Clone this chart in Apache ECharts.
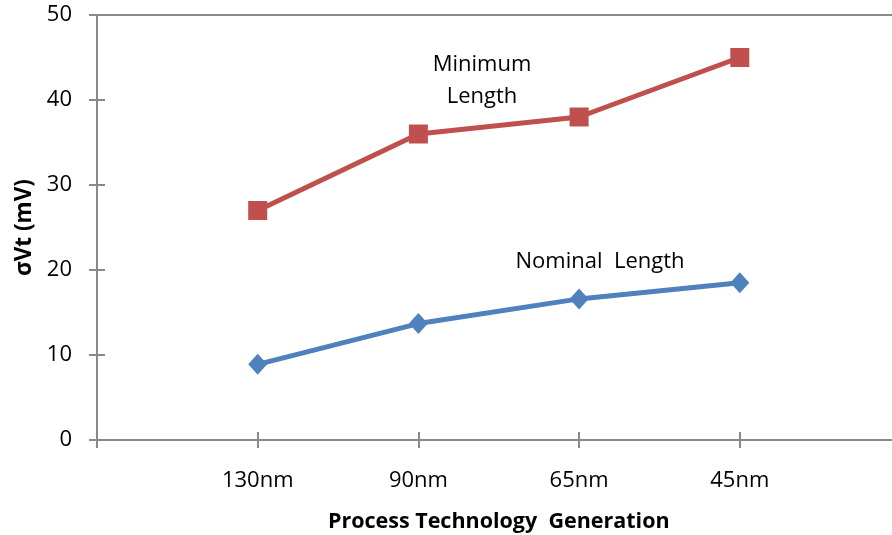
<!DOCTYPE html>
<html>
<head>
<meta charset="utf-8">
<script src="https://cdn.jsdelivr.net/npm/echarts@6/dist/echarts.min.js"></script>
<style>
  html, body { margin: 0; padding: 0; background: #fff; }
  #chart { width: 892px; height: 535px; }
</style>
</head>
<body>
<div id="chart"></div>
<script>
// Process generations shown along the x axis
const categories = ['130nm', '90nm', '65nm', '45nm'];
// Threshold-voltage mismatch (mV) per generation
const minimumLength = [27, 36, 38, 45];
const nominalLength = [8.9, 13.7, 16.6, 18.5];
const yTicks = [0, 10, 20, 30, 40, 50];

const FONT = 'Open Sans';
const AXIS_GRAY = '#898989';

// Points sit at positions 1..n on a value axis running 0..n+1
const toPoints = vals => vals.map((v, i) => [i + 1, v]);

const chart = echarts.init(document.getElementById('chart'), null, { renderer: 'canvas' });

const xBase = {
  type: 'value',
  min: 0,
  max: categories.length + 1,
  interval: 1,
  splitLine: { show: false }
};
const yBase = {
  type: 'value',
  min: yTicks[0],
  max: yTicks[yTicks.length - 1],
  interval: yTicks[1] - yTicks[0],
  splitLine: { show: false }
};

chart.setOption({
  animation: false,
  backgroundColor: '#fff',
  grid: {
    left: 97, top: 15, bottom: 95, right: -8.5,
    containLabel: false,
    outerBoundsMode: 'none'
  },
  xAxis: [
    Object.assign({}, xBase, {
      position: 'bottom',
      name: 'Process Technology  Generation',
      nameLocation: 'middle',
      nameGap: 71,
      nameTextStyle: { fontFamily: FONT, fontSize: 21.5, fontWeight: 'bold', color: '#000' },
      axisLine: { show: true, lineStyle: { color: AXIS_GRAY, width: 2 } },
      axisTick: { show: true, inside: false, length: 8, lineStyle: { color: AXIS_GRAY, width: 2 } },
      axisLabel: {
        margin: 30,
        fontFamily: FONT, fontSize: 22, color: '#000',
        formatter: v => categories[v - 1] || ''
      }
    }),
    Object.assign({}, xBase, {
      position: 'bottom',
      axisLine: { show: false },
      axisTick: { show: true, inside: true, length: 8, lineStyle: { color: AXIS_GRAY, width: 2 } },
      axisLabel: { show: false }
    }),
    Object.assign({}, xBase, {
      position: 'top',
      axisLine: { show: true, lineStyle: { color: AXIS_GRAY, width: 2 } },
      axisTick: { show: false },
      axisLabel: { show: false }
    })
  ],
  yAxis: [
    Object.assign({}, yBase, {
      position: 'left',
      name: 'σVt (mV)',
      nameLocation: 'middle',
      nameGap: 58,
      nameTextStyle: { fontFamily: FONT, fontSize: 22.5, fontWeight: 'bold', color: '#000' },
      axisLine: { show: true, lineStyle: { color: AXIS_GRAY, width: 2 } },
      axisTick: { show: true, inside: false, length: 8, lineStyle: { color: AXIS_GRAY, width: 2 } },
      axisLabel: { margin: 25, fontFamily: FONT, fontSize: 22, color: '#000' }
    }),
    Object.assign({}, yBase, {
      position: 'left',
      axisLine: { show: false },
      axisTick: { show: true, inside: true, length: 8, lineStyle: { color: AXIS_GRAY, width: 2 } },
      axisLabel: { show: false }
    })
  ],
  series: [
    {
      name: 'Minimum Length',
      type: 'line',
      xAxisIndex: 0, yAxisIndex: 0,
      data: toPoints(minimumLength),
      symbol: 'rect',
      symbolSize: 19,
      lineStyle: { color: '#C0504D', width: 5 },
      itemStyle: { color: '#C0504D' }
    },
    {
      name: 'Nominal Length',
      type: 'line',
      xAxisIndex: 0, yAxisIndex: 0,
      data: toPoints(nominalLength),
      symbol: 'diamond',
      symbolSize: [19, 21],
      lineStyle: { color: '#4F81BD', width: 5 },
      itemStyle: { color: '#4F81BD' }
    }
  ],
  graphic: [
    {
      type: 'text', x: 482, y: 81,
      style: {
        text: 'Minimum\nLength',
        align: 'center', verticalAlign: 'middle',
        font: '22px "Open Sans"', lineHeight: 32, fill: '#000'
      }
    },
    {
      type: 'text', x: 600, y: 262,
      style: {
        text: 'Nominal  Length',
        align: 'center', verticalAlign: 'middle',
        font: '22px "Open Sans"', fill: '#000'
      }
    }
  ]
});
</script>
</body>
</html>
